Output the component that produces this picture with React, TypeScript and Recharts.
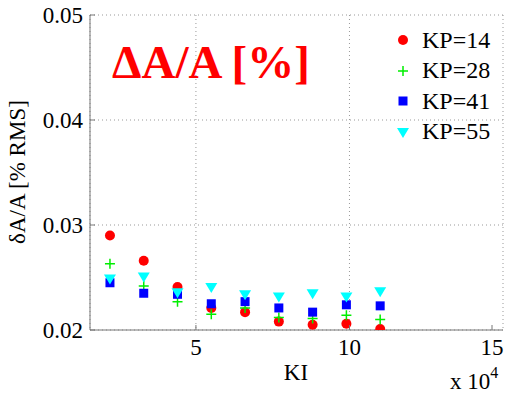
import React from 'react';
import { ScatterChart, Scatter, XAxis, YAxis, CartesianGrid } from 'recharts';

const KI = [22000, 33000, 44000, 55000, 66000, 77000, 88000, 99000, 110000];
const KP14 = [0.029, 0.0266, 0.0241, 0.0221, 0.0217, 0.0208, 0.0205, 0.0206, 0.0201];
const KP28 = [0.0263, 0.0242, 0.0227, 0.0215, 0.0221, 0.0212, 0.0211, 0.0214, 0.021];
const KP41 = [0.0245, 0.0235, 0.0234, 0.0225, 0.0227, 0.0221, 0.0217, 0.0224, 0.0223];
const KP55 = [0.0249, 0.0251, 0.0236, 0.0241, 0.0234, 0.0232, 0.0235, 0.0232, 0.0237];

const X_TICKS = [50000, 100000, 150000];
const Y_TICKS = [0.02, 0.03, 0.04, 0.05];

const FONT = 'Liberation Serif, DejaVu Serif, serif';
const AXIS = '#777';

type Marker = 'circle' | 'plus' | 'square' | 'triangle';

const SERIES: { name: string; values: number[]; color: string; marker: Marker }[] = [
  { name: 'KP=14', values: KP14, color: '#ff0000', marker: 'circle' },
  { name: 'KP=28', values: KP28, color: '#00ee00', marker: 'plus' },
  { name: 'KP=41', values: KP41, color: '#0000ff', marker: 'square' },
  { name: 'KP=55', values: KP55, color: '#00ffff', marker: 'triangle' },
];

function markerPath(marker: Marker, cx: number, cy: number, color: string) {
  switch (marker) {
    case 'circle':
      return <circle cx={cx} cy={cy} r={5} fill={color} />;
    case 'plus':
      return (
        <path
          d={`M${cx - 5},${cy}H${cx + 5}M${cx},${cy - 5}V${cy + 5}`}
          stroke={color}
          strokeWidth={1.5}
          fill="none"
        />
      );
    case 'square':
      return <rect x={cx - 4.5} y={cy - 4.5} width={9} height={9} fill={color} />;
    default:
      return (
        <path
          d={`M${cx - 6},${cy - 4}L${cx + 6},${cy - 4}L${cx},${cy + 6}Z`}
          fill={color}
        />
      );
  }
}

const makeShape = (marker: Marker, color: string) => (props: any) =>
  markerPath(marker, props.cx, props.cy, color);

const BottomTick = ({ x, y, payload }: any) => (
  <g>
    <line x1={x} x2={x} y1={y} y2={y - 5} stroke={AXIS} />
    <text x={x} y={y + 25} textAnchor="middle" fontFamily={FONT} fontSize={23} fill="#000">
      {payload.value / 10000}
    </text>
  </g>
);

const TopTick = ({ x, y }: any) => (
  <line x1={x} x2={x} y1={y} y2={y + 5} stroke={AXIS} />
);

const LeftTick = ({ x, y, payload }: any) => (
  <g>
    <line x1={x} x2={x + 5} y1={y} y2={y} stroke={AXIS} />
    <text x={x - 7} y={y + 7.5} textAnchor="end" fontFamily={FONT} fontSize={23} fill="#000">
      {payload.value.toFixed(2)}
    </text>
  </g>
);

const RightTick = ({ x, y }: any) => (
  <line x1={x} x2={x - 5} y1={y} y2={y} stroke={AXIS} />
);

const LegendBox = () => (
  <div
    style={{
      position: 'absolute',
      left: 396,
      top: 25,
      fontFamily: FONT,
      fontSize: 24,
      color: '#000',
    }}
  >
    {SERIES.map((s) => (
      <div key={s.name} style={{ display: 'flex', alignItems: 'center', height: 30.5 }}>
        <svg width={14} height={14} style={{ marginRight: 12 }}>
          {markerPath(s.marker, 7, 7, s.color)}
        </svg>
        <span>{s.name}</span>
      </div>
    ))}
  </div>
);

export default function App() {
  return (
    <div style={{ position: 'absolute', left: 0, top: 0, width: 516, height: 394, background: '#fff' }}>
      <ScatterChart
        width={516}
        height={394}
        margin={{ top: 15, right: 13, bottom: 0, left: 0 }}
      >
        <CartesianGrid strokeDasharray="1 3" stroke="#999" />
        <XAxis
          xAxisId={0}
          type="number"
          dataKey="x"
          domain={[15500, 150000]}
          ticks={X_TICKS}
          allowDataOverflow
          height={64}
          tickSize={0}
          tickMargin={0}
          tickLine={false}
          axisLine={{ stroke: AXIS }}
          tick={<BottomTick />}
        />
        <XAxis
          xAxisId="top"
          orientation="top"
          type="number"
          domain={[15500, 150000]}
          ticks={X_TICKS}
          allowDataOverflow
          height={0}
          tickSize={0}
          tickMargin={0}
          tickLine={false}
          axisLine={{ stroke: AXIS }}
          tick={<TopTick />}
        />
        <YAxis
          yAxisId={0}
          type="number"
          dataKey="y"
          domain={[0.02, 0.05]}
          ticks={Y_TICKS}
          allowDataOverflow
          width={90}
          tickSize={0}
          tickMargin={0}
          tickLine={false}
          axisLine={{ stroke: AXIS }}
          tick={<LeftTick />}
        />
        <YAxis
          yAxisId="right"
          orientation="right"
          type="number"
          domain={[0.02, 0.05]}
          ticks={Y_TICKS}
          allowDataOverflow
          width={0}
          tickSize={0}
          tickMargin={0}
          tickLine={false}
          axisLine={{ stroke: AXIS }}
          tick={<RightTick />}
        />
        {SERIES.map((s) => (
          <Scatter
            key={s.name}
            name={s.name}
            data={KI.map((x, i) => ({ x, y: s.values[i] }))}
            fill={s.color}
            shape={makeShape(s.marker, s.color)}
            isAnimationActive={false}
          />
        ))}
      </ScatterChart>
      <LegendBox />
      <svg
        width={516}
        height={394}
        style={{ position: 'absolute', left: 0, top: 0, pointerEvents: 'none' }}
      >
        <text x={112} y={78} fontFamily={FONT} fontWeight="bold" fontSize={47} fill="#ff0000">
          ΔA/A [%]
        </text>
        <text
          x={0}
          y={0}
          transform="translate(25,172) rotate(-90)"
          textAnchor="middle"
          fontFamily={FONT}
          fontSize={23}
          fill="#000"
        >
          δA/A [% RMS]
        </text>
        <text x={296} y={380} textAnchor="middle" fontFamily={FONT} fontSize={23} fill="#000">
          KI
        </text>
        <text x={450} y={389} fontFamily={FONT} fontSize={23} fill="#000">
          x 10
          <tspan dy={-11} fontSize={16}>4</tspan>
        </text>
      </svg>
    </div>
  );
}
